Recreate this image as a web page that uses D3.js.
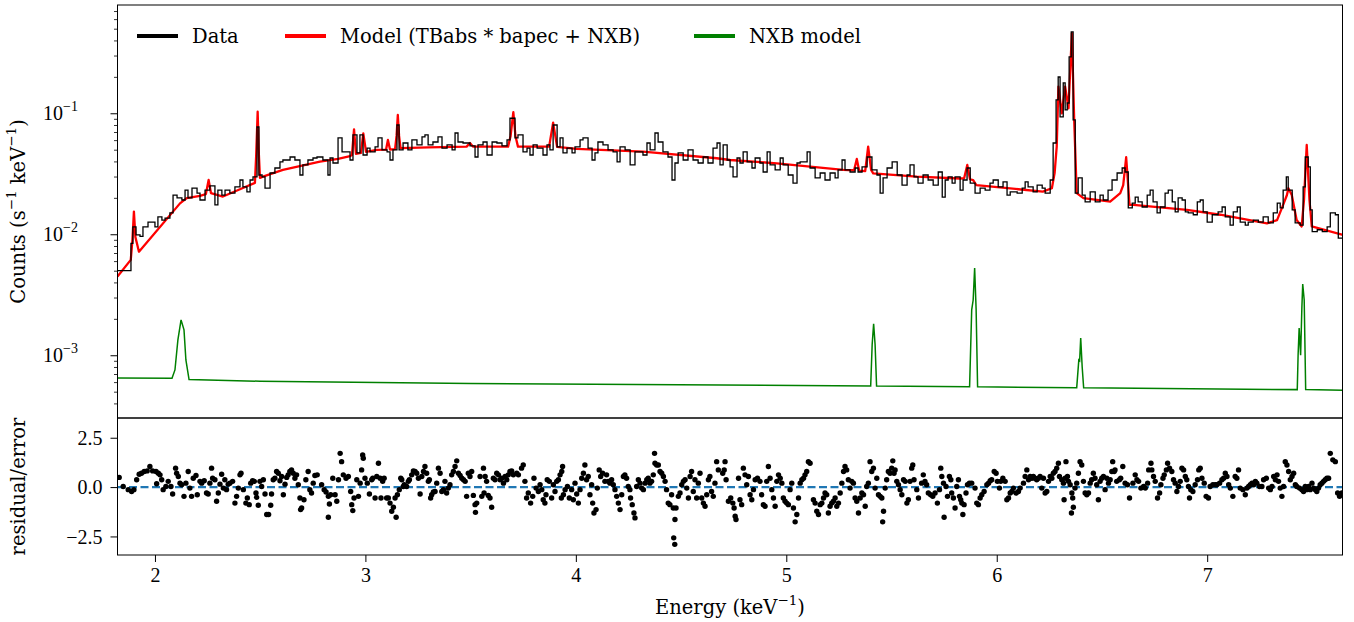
<!DOCTYPE html>
<html>
<head>
<meta charset="utf-8">
<script src="https://cdn.jsdelivr.net/npm/d3@7"></script>
<style>
  body { margin: 0; background: #fff; }
  svg text { font-family: "DejaVu Serif", "Liberation Serif", serif; fill: #000; }
  svg text.tick-label, svg .tick text { font-family: "Liberation Serif", "DejaVu Serif", serif; }
</style>
</head>
<body>
<div id="chart"></div>
<script>
// ---- data ----
// spectrum: [bin low edge keV, counts s^-1 keV^-1]
const spectrum = [
  [1.820,0.0050],[1.886,0.0084],[1.895,0.0115],[1.910,0.0099],[1.929,0.0096],[1.943,0.0115],[1.967,0.0126],[2.000,0.0115],[2.014,0.0139],[2.033,0.0131],
  [2.048,0.0136],[2.071,0.0150],[2.086,0.0211],[2.105,0.0200],[2.128,0.0192],[2.143,0.0232],[2.157,0.0200],[2.176,0.0241],[2.200,0.0219],[2.214,0.0192],
  [2.238,0.0232],[2.261,0.0251],[2.285,0.0175],[2.299,0.0232],[2.318,0.0211],[2.333,0.0232],[2.356,0.0219],[2.380,0.0246],[2.404,0.0281],[2.418,0.0246],
  [2.437,0.0224],[2.452,0.0281],[2.466,0.0298],[2.485,0.0770],[2.494,0.0309],[2.509,0.0298],[2.523,0.0241],[2.547,0.0321],[2.570,0.0353],[2.594,0.0396],
  [2.608,0.0411],[2.642,0.0435],[2.665,0.0411],[2.689,0.0309],[2.703,0.0374],[2.727,0.0411],[2.751,0.0427],[2.770,0.0435],[2.798,0.0411],[2.822,0.0309],
  [2.832,0.0427],[2.846,0.0388],[2.870,0.0625],[2.889,0.0479],[2.927,0.0411],[2.941,0.0662],[2.960,0.0470],[2.974,0.0662],[2.989,0.0452],[3.008,0.0516],
  [3.022,0.0479],[3.046,0.0527],[3.060,0.0625],[3.079,0.0498],[3.103,0.0479],[3.117,0.0411],[3.131,0.0498],[3.150,0.0800],[3.160,0.0498],[3.179,0.0568],
  [3.202,0.0498],[3.221,0.0602],[3.245,0.0547],[3.269,0.0637],[3.283,0.0662],[3.298,0.0547],[3.321,0.0579],[3.345,0.0637],[3.364,0.0516],[3.388,0.0547],
  [3.412,0.0498],[3.426,0.0687],[3.440,0.0579],[3.464,0.0568],[3.497,0.0537],[3.521,0.0435],[3.535,0.0547],[3.559,0.0579],[3.578,0.0452],[3.602,0.0579],
  [3.625,0.0568],[3.649,0.0537],[3.673,0.0602],[3.687,0.0910],[3.711,0.0625],[3.725,0.0662],[3.749,0.0479],[3.768,0.0516],[3.782,0.0452],[3.797,0.0547],
  [3.816,0.0516],[3.844,0.0452],[3.863,0.0547],[3.877,0.0498],[3.892,0.0800],[3.911,0.0527],[3.925,0.0625],[3.939,0.0470],[3.958,0.0516],[3.982,0.0470],
  [3.996,0.0527],[4.020,0.0602],[4.034,0.0625],[4.058,0.0516],[4.077,0.0411],[4.091,0.0470],[4.105,0.0579],[4.129,0.0547],[4.153,0.0498],[4.177,0.0479],
  [4.196,0.0396],[4.210,0.0527],[4.234,0.0498],[4.258,0.0374],[4.281,0.0479],[4.319,0.0452],[4.338,0.0568],[4.353,0.0498],[4.376,0.0687],[4.391,0.0579],
  [4.414,0.0479],[4.438,0.0435],[4.457,0.0281],[4.471,0.0388],[4.486,0.0470],[4.510,0.0411],[4.533,0.0498],[4.557,0.0411],[4.581,0.0388],[4.605,0.0435],
  [4.628,0.0388],[4.652,0.0516],[4.671,0.0568],[4.685,0.0374],[4.700,0.0547],[4.719,0.0411],[4.733,0.0360],[4.747,0.0298],[4.766,0.0427],[4.780,0.0388],
  [4.795,0.0479],[4.814,0.0396],[4.837,0.0353],[4.852,0.0427],[4.875,0.0388],[4.890,0.0327],[4.909,0.0479],[4.923,0.0374],[4.947,0.0340],[4.971,0.0427],
  [4.985,0.0374],[5.009,0.0309],[5.032,0.0265],[5.051,0.0388],[5.066,0.0396],[5.099,0.0479],[5.113,0.0353],[5.137,0.0292],[5.161,0.0321],[5.184,0.0281],
  [5.208,0.0321],[5.232,0.0292],[5.246,0.0340],[5.265,0.0411],[5.279,0.0340],[5.303,0.0327],[5.327,0.0353],[5.341,0.0327],[5.360,0.0360],[5.384,0.0435],
  [5.407,0.0340],[5.431,0.0309],[5.446,0.0219],[5.460,0.0292],[5.479,0.0353],[5.503,0.0396],[5.527,0.0309],[5.550,0.0255],[5.574,0.0309],[5.588,0.0374],
  [5.607,0.0298],[5.626,0.0265],[5.650,0.0309],[5.674,0.0281],[5.698,0.0255],[5.722,0.0327],[5.741,0.0203],[5.755,0.0281],[5.769,0.0298],[5.788,0.0265],
  [5.802,0.0298],[5.826,0.0232],[5.840,0.0281],[5.859,0.0353],[5.874,0.0265],[5.897,0.0219],[5.921,0.0241],[5.945,0.0232],[5.968,0.0265],[5.983,0.0281],
  [6.007,0.0246],[6.030,0.0271],[6.049,0.0211],[6.064,0.0224],[6.097,0.0219],[6.121,0.0241],[6.135,0.0271],[6.149,0.0246],[6.173,0.0224],[6.192,0.0255],
  [6.216,0.0241],[6.230,0.0219],[6.254,0.0281],[6.268,0.0568],[6.282,0.1288],[6.292,0.1995],[6.301,0.0932],[6.316,0.1780],[6.325,0.1065],[6.335,0.1216],
  [6.344,0.2920],[6.354,0.4700],[6.363,0.0881],[6.373,0.0219],[6.387,0.0292],[6.406,0.0211],[6.420,0.0185],[6.444,0.0224],[6.468,0.0185],[6.491,0.0211],
  [6.506,0.0192],[6.529,0.0232],[6.548,0.0281],[6.572,0.0321],[6.596,0.0353],[6.610,0.0327],[6.625,0.0165],[6.644,0.0181],[6.658,0.0203],[6.672,0.0185],
  [6.691,0.0168],[6.715,0.0211],[6.729,0.0232],[6.743,0.0185],[6.762,0.0150],[6.777,0.0168],[6.800,0.0219],[6.815,0.0232],[6.834,0.0185],[6.848,0.0153],
  [6.862,0.0200],[6.881,0.0192],[6.896,0.0153],[6.910,0.0150],[6.934,0.0145],[6.953,0.0185],[6.967,0.0192],[6.981,0.0153],[7.000,0.0126],[7.024,0.0145],
  [7.052,0.0153],[7.071,0.0168],[7.086,0.0139],[7.109,0.0119],[7.124,0.0153],[7.143,0.0168],[7.157,0.0126],[7.181,0.0119],[7.195,0.0126],[7.219,0.0131],
  [7.243,0.0126],[7.266,0.0139],[7.290,0.0124],[7.314,0.0150],[7.333,0.0181],[7.347,0.0165],[7.361,0.0232],[7.376,0.0298],[7.385,0.0232],[7.404,0.0159],
  [7.418,0.0124],[7.442,0.0119],[7.456,0.0246],[7.466,0.0435],[7.480,0.0360],[7.490,0.0159],[7.499,0.0105],[7.523,0.0109],[7.547,0.0105],[7.570,0.0115],
  [7.585,0.0150],[7.609,0.0145],[7.623,0.0093]
];
const spectrumEnd = 7.643;

// total model TBabs*bapec + NXB: [keV, counts]
const model = [
  [1.822,0.00447],[1.885,0.00614],[1.893,0.0090],[1.900,0.0154],[1.907,0.0095],[1.924,0.00718],[2.119,0.0180],[2.151,0.0199],[2.214,0.0208],[2.242,0.0215],
  [2.255,0.0281],[2.266,0.0219],[2.323,0.0205],[2.418,0.0241],[2.475,0.0266],[2.481,0.045],[2.488,0.1031],[2.494,0.045],[2.499,0.0292],[2.513,0.0299],
  [2.608,0.0340],[2.784,0.0398],[2.870,0.0420],[2.927,0.0443],[2.936,0.0450],[2.946,0.0737],[2.955,0.0461],[2.979,0.0470],[2.990,0.0683],[3.003,0.0479],
  [3.054,0.0498],[3.098,0.0500],[3.107,0.0602],[3.117,0.0502],[3.141,0.0505],[3.148,0.065],[3.154,0.0968],[3.160,0.065],[3.167,0.0516],[3.300,0.0522],
  [3.481,0.0530],[3.497,0.0568],[3.511,0.0530],[3.678,0.0530],[3.690,0.065],[3.703,0.1020],[3.713,0.065],[3.725,0.0530],[3.873,0.0530],[3.892,0.0836],
  [3.911,0.0527],[4.004,0.0507],[4.319,0.0482],[4.670,0.0425],[4.733,0.0411],[4.955,0.0386],[5.271,0.0340],[5.322,0.0338],[5.335,0.0419],[5.346,0.0336],
  [5.375,0.0333],[5.389,0.0530],[5.403,0.0340],[5.413,0.0319],[5.620,0.0299],[5.826,0.0289],[5.845,0.0290],[5.860,0.0374],[5.873,0.0285],[5.888,0.0280],
  [5.903,0.0255],[6.219,0.0225],[6.262,0.0240],[6.275,0.032],[6.285,0.0530],[6.293,0.1660],[6.309,0.1000],[6.325,0.1660],[6.341,0.1100],[6.357,0.4590],
  [6.368,0.0880],[6.380,0.0219],[6.412,0.0199],[6.539,0.0186],[6.587,0.0219],[6.601,0.0255],[6.615,0.0433],[6.631,0.0175],[6.650,0.0175],[6.904,0.0159],
  [7.062,0.0145],[7.284,0.0123],[7.332,0.0131],[7.361,0.0175],[7.379,0.0211],[7.386,0.0240],[7.402,0.0211],[7.425,0.0131],[7.449,0.0116],[7.460,0.0192],
  [7.473,0.0547],[7.486,0.0192],[7.497,0.0116],[7.645,0.00987]
];

// NXB model: [keV, counts]
const nxb = [
  [1.822,6.5e-4],[2.081,6.45e-4],[2.095,7.56e-4],[2.109,1.34e-3],[2.124,1.96e-3],[2.138,1.62e-3],[2.147,9.15e-4],[2.162,6.3e-4],[2.5,6.1e-4],[3.5,5.85e-4],
  [5.401,5.58e-4],[5.408,1.22e-3],[5.415,1.82e-3],[5.422,1.22e-3],[5.429,5.56e-4],[5.871,5.5e-4],[5.881,2.37e-3],[5.888,2.86e-3],[5.895,5.27e-3],[5.902,2.4e-3],
  [5.909,5.48e-4],[6.380,5.4e-4],[6.390,9.15e-4],[6.394,9.0e-4],[6.399,1.39e-3],[6.406,8.0e-4],[6.413,5.38e-4],[7.428,5.2e-4],[7.432,1.0e-3],[7.437,1.68e-3],
  [7.444,1.0e-3],[7.450,2.5e-3],[7.454,3.88e-3],[7.461,2.86e-3],[7.468,5.2e-4],[7.643,5.15e-4]
];

// residual/error: [keV, value]
const residuals = [
  [1.830,0.49],[1.849,0.03],[1.873,-0.13],[1.889,-0.22],[1.900,-0.13],[1.913,0.37],[1.925,0.65],[1.936,0.70],[1.949,0.79],[1.963,0.82],
  [1.976,1.04],[1.989,0.82],[2.005,0.79],[2.016,0.70],[2.024,0.62],[2.008,0.17],[2.032,0.37],[2.039,-0.13],[2.052,0.03],[2.063,0.29],
  [2.076,0.03],[2.084,-0.35],[2.098,0.96],[2.103,0.70],[2.111,0.54],[2.119,0.20],[2.127,0.12],[2.138,-0.47],[2.147,0.20],[2.158,0.79],
  [2.166,-0.05],[2.174,-0.47],[2.182,0.45],[2.195,0.59],[2.201,-0.39],[2.214,0.29],[2.222,0.20],[2.234,0.32],[2.245,-0.30],[2.253,-0.35],
  [2.261,0.20],[2.269,0.96],[2.274,0.45],[2.285,0.37],[2.293,-0.72],[2.301,-0.30],[2.309,0.15],[2.317,0.65],[2.325,-0.05],[2.332,0.37],
  [2.340,-0.13],[2.348,0.15],[2.356,0.20],[2.369,0.29],[2.380,-0.81],[2.388,-0.47],[2.396,-0.05],[2.404,0.62],[2.409,0.70],[2.420,-0.13],
  [2.432,-0.81],[2.439,-0.55],[2.448,-0.89],[2.455,0.20],[2.464,0.32],[2.472,0.29],[2.483,-0.52],[2.480,-0.30],[2.491,-0.92],[2.499,0.29],
  [2.507,0.03],[2.515,0.37],[2.523,-0.35],[2.531,-1.39],[2.540,-1.39],[2.550,-0.92],[2.554,-0.35],[2.562,0.37],[2.570,0.45],[2.578,0.79],
  [2.586,0.70],[2.594,0.32],[2.602,0.54],[2.610,-0.39],[2.618,0.15],[2.626,0.49],[2.633,0.62],[2.641,0.79],[2.649,0.87],[2.657,0.70],
  [2.665,0.45],[2.673,0.62],[2.681,0.12],[2.689,-0.55],[2.692,-1.14],[2.697,-1.06],[2.708,-0.64],[2.717,0.37],[2.728,0.79],[2.736,-0.13],
  [2.744,-0.30],[2.752,0.20],[2.760,0.59],[2.771,0.62],[2.792,0.12],[2.804,-0.13],[2.813,-0.25],[2.824,-0.47],[2.829,-0.86],[2.824,-1.53],
  [2.835,-0.39],[2.845,0.45],[2.856,-0.39],[2.864,-0.72],[2.872,0.37],[2.880,1.71],[2.887,1.29],[2.895,0.62],[2.908,0.45],[2.919,0.54],
  [2.930,-0.22],[2.935,-0.89],[2.940,-1.19],[2.946,-0.55],[2.959,0.37],[2.967,-0.47],[2.975,0.20],[2.982,0.87],[2.987,1.63],[2.990,1.46],
  [2.998,0.45],[3.009,0.20],[3.019,-0.35],[3.030,0.37],[3.035,0.45],[3.046,-0.55],[3.054,0.54],[3.062,1.21],[3.070,0.45],[3.074,-0.55],
  [3.082,0.29],[3.089,0.45],[3.101,-0.55],[3.109,-0.55],[3.117,-0.81],[3.125,-1.22],[3.133,-1.02],[3.141,-0.55],[3.146,-1.53],[3.152,-0.39],
  [3.161,-0.13],[3.168,0.45],[3.173,0.37],[3.180,0.03],[3.185,0.12],[3.196,0.03],[3.204,0.29],[3.209,0.37],[3.220,0.62],[3.228,0.82],
  [3.236,0.79],[3.244,0.70],[3.252,0.45],[3.260,-0.35],[3.268,0.54],[3.276,0.79],[3.283,1.04],[3.291,0.70],[3.299,0.29],[3.304,0.37],
  [3.310,-0.55],[3.315,-0.39],[3.323,-0.25],[3.331,-0.22],[3.339,0.20],[3.347,0.96],[3.355,0.70],[3.363,-0.22],[3.371,-0.13],[3.378,0.29],
  [3.386,-0.30],[3.394,-0.05],[3.402,0.12],[3.410,0.62],[3.418,0.79],[3.426,1.04],[3.434,1.33],[3.442,0.70],[3.450,0.59],[3.458,0.45],
  [3.466,0.37],[3.474,0.29],[3.481,-0.47],[3.489,0.70],[3.497,0.54],[3.505,0.79],[3.513,-0.42],[3.521,-0.89],[3.523,-1.28],[3.529,-0.81],
  [3.545,0.54],[3.553,-0.47],[3.561,0.96],[3.564,-0.30],[3.569,0.54],[3.576,0.29],[3.584,-0.42],[3.592,-0.55],[3.600,-1.02],[3.608,0.45],
  [3.616,0.37],[3.624,0.70],[3.632,0.62],[3.640,0.37],[3.648,0.45],[3.656,0.20],[3.664,0.54],[3.672,0.37],[3.679,0.62],[3.687,0.79],
  [3.695,0.82],[3.703,0.62],[3.719,0.70],[3.727,0.62],[3.742,0.96],[3.750,1.12],[3.758,0.29],[3.766,-0.55],[3.774,-0.30],[3.785,-0.81],
  [3.795,-0.47],[3.801,0.45],[3.811,-0.05],[3.822,-0.22],[3.830,0.12],[3.838,-0.13],[3.845,-0.64],[3.853,-0.81],[3.858,-0.39],[3.864,0.37],
  [3.874,0.29],[3.885,-0.55],[3.893,0.12],[3.901,-0.22],[3.909,0.29],[3.917,0.37],[3.925,0.62],[3.933,0.79],[3.937,1.04],[3.931,-0.55],
  [3.941,-0.39],[3.949,-0.13],[3.960,0.03],[3.969,-0.55],[3.980,-0.13],[3.988,-0.64],[3.996,0.20],[4.004,-0.35],[4.012,-0.81],[4.020,-0.13],
  [4.028,0.45],[4.036,0.70],[4.043,1.12],[4.051,0.37],[4.059,0.54],[4.067,-0.39],[4.075,0.12],[4.080,-0.81],[4.086,-1.31],[4.096,-1.14],
  [4.102,-0.05],[4.111,0.87],[4.118,0.54],[4.127,0.70],[4.138,0.29],[4.146,0.62],[4.154,0.29],[4.162,0.20],[4.170,0.37],[4.178,0.12],
  [4.186,-0.13],[4.194,-0.47],[4.202,-0.81],[4.210,-1.14],[4.218,-0.39],[4.226,0.54],[4.233,0.62],[4.241,0.45],[4.249,0.03],[4.257,-0.13],
  [4.260,-0.55],[4.268,-0.89],[4.276,-1.31],[4.281,-1.56],[4.289,0.03],[4.297,0.37],[4.305,0.20],[4.313,-0.05],[4.321,-0.13],[4.329,0.20],
  [4.337,0.37],[4.344,0.45],[4.352,0.20],[4.360,0.29],[4.368,0.62],[4.376,1.21],[4.374,1.71],[4.384,1.12],[4.392,1.12],[4.400,0.79],
  [4.408,0.70],[4.416,0.54],[4.424,0.29],[4.431,-0.13],[4.439,-0.81],[4.447,-0.89],[4.455,-0.39],[4.463,-1.06],[4.471,-1.64],[4.476,-1.06],
  [4.465,-2.57],[4.470,-2.90],[4.487,-0.47],[4.495,-0.30],[4.503,0.12],[4.511,0.29],[4.519,0.37],[4.527,-0.05],[4.535,-0.55],[4.543,0.54],
  [4.550,0.79],[4.558,-0.22],[4.566,0.37],[4.574,-0.55],[4.582,0.20],[4.590,0.70],[4.598,-0.55],[4.606,-0.81],[4.614,-0.97],[4.622,-0.39],
  [4.630,0.37],[4.637,0.54],[4.645,-0.22],[4.653,-0.47],[4.661,0.20],[4.669,1.29],[4.677,0.87],[4.698,0.70],[4.705,0.87],[4.709,1.29],
  [4.714,0.37],[4.725,-0.72],[4.736,-0.55],[4.746,-0.81],[4.752,-1.06],[4.757,-1.48],[4.761,-1.64],[4.773,0.45],[4.780,-0.64],[4.788,-0.89],
  [4.796,0.96],[4.804,0.62],[4.812,0.12],[4.820,0.54],[4.828,-0.39],[4.836,-0.64],[4.844,-0.13],[4.852,0.37],[4.863,0.45],[4.875,0.29],
  [4.883,-0.39],[4.891,-0.89],[4.899,-0.97],[4.907,0.29],[4.915,1.04],[4.923,0.45],[4.931,-0.13],[4.939,-0.55],[4.947,-0.97],[4.955,0.29],
  [4.963,0.62],[4.971,0.45],[4.979,0.20],[4.986,-0.55],[4.994,-0.72],[5.002,-0.81],[5.010,-0.89],[5.018,-0.13],[5.026,0.20],[5.034,-1.06],
  [5.042,-1.76],[5.050,-1.39],[5.058,-0.55],[5.066,0.20],[5.074,0.37],[5.082,0.45],[5.089,0.62],[5.097,0.79],[5.105,1.29],[5.113,1.21],
  [5.129,-0.64],[5.137,-0.81],[5.145,-1.22],[5.153,-1.39],[5.161,-0.89],[5.169,-0.81],[5.177,-0.55],[5.184,-0.30],[5.192,-0.39],[5.200,-1.31],
  [5.208,-0.97],[5.216,-0.81],[5.224,-0.72],[5.232,-0.55],[5.240,-0.97],[5.248,-0.81],[5.256,-0.30],[5.264,0.20],[5.272,0.79],[5.279,1.04],
  [5.287,0.87],[5.295,0.37],[5.303,-0.05],[5.311,0.29],[5.319,0.20],[5.327,-0.55],[5.335,-0.72],[5.343,-1.31],[5.351,-0.55],[5.359,-0.30],
  [5.367,-0.39],[5.375,-0.97],[5.382,0.03],[5.390,0.20],[5.398,1.29],[5.406,0.79],[5.414,0.96],[5.422,-0.05],[5.430,0.45],[5.438,-0.39],
  [5.446,-0.47],[5.454,-0.55],[5.462,-1.22],[5.458,-1.76],[5.470,-0.05],[5.477,0.37],[5.485,0.79],[5.493,0.70],[5.501,0.96],[5.506,1.33],
  [5.512,0.70],[5.517,0.87],[5.525,0.29],[5.533,0.12],[5.541,-0.13],[5.549,-0.39],[5.557,0.37],[5.565,0.29],[5.573,-0.81],[5.580,-0.64],
  [5.588,0.29],[5.596,0.96],[5.601,1.12],[5.607,0.37],[5.620,-0.13],[5.628,-0.55],[5.643,0.20],[5.651,0.62],[5.659,0.29],[5.667,0.12],
  [5.675,-0.30],[5.686,-0.39],[5.696,-0.47],[5.707,-0.30],[5.718,-0.81],[5.728,-0.13],[5.734,0.96],[5.739,0.54],[5.747,0.20],[5.750,-1.53],
  [5.759,0.03],[5.766,-0.47],[5.775,0.54],[5.782,0.37],[5.786,-0.30],[5.794,-0.55],[5.802,-1.06],[5.810,0.03],[5.818,0.37],[5.823,-0.47],
  [5.829,-0.64],[5.834,-0.81],[5.839,-1.39],[5.845,-0.89],[5.854,-0.30],[5.861,0.12],[5.870,0.20],[5.881,0.20],[5.897,-0.05],[5.905,-0.81],
  [5.913,-0.89],[5.921,-0.55],[5.929,-0.39],[5.940,-0.22],[5.953,0.12],[5.961,0.20],[5.969,0.32],[5.976,0.37],[5.988,0.79],[5.997,0.70],
  [6.003,0.29],[6.013,-0.05],[6.019,0.29],[6.029,0.45],[6.040,0.29],[6.048,-0.64],[6.056,-0.55],[6.064,-0.30],[6.072,-0.22],[6.079,-0.05],
  [6.092,-0.30],[6.103,-0.22],[6.111,-0.05],[6.127,0.20],[6.135,0.54],[6.143,0.87],[6.151,0.37],[6.159,0.54],[6.167,0.45],[6.174,0.54],
  [6.182,0.45],[6.190,0.37],[6.198,0.45],[6.206,0.54],[6.214,-0.05],[6.222,0.45],[6.230,-0.30],[6.238,-0.22],[6.246,0.29],[6.254,0.54],
  [6.262,0.45],[6.269,0.70],[6.277,0.79],[6.285,0.96],[6.293,1.21],[6.298,0.54],[6.309,0.37],[6.317,0.20],[6.320,-0.64],[6.325,0.45],
  [6.329,1.29],[6.336,0.54],[6.341,0.29],[6.349,0.12],[6.357,-0.30],[6.361,-0.55],[6.364,-1.02],[6.355,-1.31],[6.372,-0.05],[6.380,0.20],
  [6.388,0.70],[6.396,1.29],[6.404,1.12],[6.412,0.29],[6.420,-0.30],[6.428,-0.39],[6.436,-0.30],[6.444,0.20],[6.451,0.37],[6.459,0.70],
  [6.467,0.45],[6.475,0.12],[6.483,-0.64],[6.491,0.29],[6.499,0.45],[6.507,0.54],[6.515,-0.13],[6.523,0.45],[6.531,0.20],[6.539,0.37],
  [6.547,0.79],[6.551,1.29],[6.558,0.79],[6.562,0.87],[6.570,0.29],[6.583,0.37],[6.589,0.45],[6.599,1.04],[6.610,0.20],[6.621,0.12],
  [6.631,-0.55],[6.647,0.20],[6.658,0.62],[6.666,0.37],[6.674,0.29],[6.685,-0.05],[6.698,0.03],[6.706,-0.05],[6.717,0.20],[6.722,0.87],
  [6.733,1.21],[6.737,0.87],[6.745,0.54],[6.753,0.29],[6.764,-0.55],[6.774,-0.30],[6.780,0.12],[6.790,0.45],[6.796,0.62],[6.806,0.87],
  [6.812,1.21],[6.821,0.96],[6.832,0.79],[6.840,0.37],[6.848,0.20],[6.856,-0.22],[6.864,0.03],[6.872,0.29],[6.880,0.96],[6.888,0.87],
  [6.896,0.54],[6.903,0.37],[6.911,0.03],[6.916,-0.55],[6.922,-0.13],[6.932,-0.22],[6.943,0.12],[6.954,0.37],[6.960,0.87],[6.967,0.96],
  [6.975,0.45],[6.986,0.20],[6.995,-0.47],[7.006,-0.55],[7.014,0.03],[7.027,0.12],[7.038,0.12],[7.046,0.12],[7.059,0.20],[7.070,0.37],
  [7.078,0.45],[7.086,0.70],[7.094,0.54],[7.102,0.12],[7.110,-0.05],[7.122,-0.47],[7.133,0.54],[7.141,0.45],[7.149,0.87],[7.157,-0.05],
  [7.170,-0.13],[7.181,-0.39],[7.189,-0.05],[7.197,0.03],[7.205,0.12],[7.213,0.20],[7.221,0.12],[7.229,0.29],[7.236,0.20],[7.249,0.03],
  [7.260,0.03],[7.268,0.37],[7.281,0.45],[7.292,-0.05],[7.300,-0.13],[7.308,0.03],[7.316,0.54],[7.324,0.37],[7.332,0.62],[7.339,0.29],
  [7.347,-0.05],[7.355,-0.47],[7.363,0.03],[7.371,1.29],[7.379,1.12],[7.387,0.79],[7.395,0.37],[7.403,0.54],[7.411,0.70],[7.419,0.12],
  [7.426,0.03],[7.439,-0.05],[7.450,-0.13],[7.458,-0.22],[7.466,0.03],[7.474,-0.13],[7.482,0.03],[7.490,-0.13],[7.498,0.20],[7.506,-0.05],
  [7.514,-0.13],[7.521,-0.22],[7.529,-0.05],[7.537,0.12],[7.545,0.20],[7.553,0.29],[7.561,0.37],[7.569,0.45],[7.577,0.45],[7.585,1.71],
  [7.597,1.38],[7.609,1.29],[7.620,-0.30],[7.629,-0.47],[7.640,-0.30]
];

const xTicks = [2, 3, 4, 5, 6, 7];
const yTopTicks = [1e-3, 1e-2, 1e-1];
const yTopMinor = [4e-4,5e-4,6e-4,7e-4,8e-4,9e-4,2e-3,3e-3,4e-3,5e-3,6e-3,7e-3,8e-3,9e-3,
                   0.02,0.03,0.04,0.05,0.06,0.07,0.08,0.09,0.2,0.3,0.4,0.5,0.6,0.7];
const yResTicks = [-2.5, 0, 2.5];
const legendItems = [
  { label: 'Data', color: '#000000' },
  { label: 'Model (TBabs * bapec + NXB)', color: '#ff0000' },
  { label: 'NXB model', color: '#008000' }
];

// ---- layout ----
const W = 1354, H = 622;
const m = { left: 117.5, right: 1342.5, top: 5, mid: 418, bottom: 555 };
const fs = 19.5;      // legend / axis labels
const tfs = 20;       // tick labels
const sfs = 13.5;     // superscripts

const svg = d3.select('#chart').append('svg')
  .attr('width', W).attr('height', H);

const x = d3.scaleLinear().domain([1.822, 7.643]).range([m.left, m.right]);
const yTop = d3.scaleLog().domain([3.03e-4, 0.785]).range([m.mid, m.top]);
const yRes = d3.scaleLinear().domain([-3.44, 3.5]).range([m.bottom, m.mid]);

const defs = svg.append('defs');
defs.append('clipPath').attr('id', 'clipTop').append('rect')
  .attr('x', m.left).attr('y', m.top).attr('width', m.right - m.left).attr('height', m.mid - m.top);
defs.append('clipPath').attr('id', 'clipRes').append('rect')
  .attr('x', m.left).attr('y', m.mid).attr('width', m.right - m.left).attr('height', m.bottom - m.mid);

// ---- top panel ----
const specG = svg.append('g').attr('clip-path', 'url(#clipTop)');

const line = d3.line().x(d => x(d[0])).y(d => yTop(d[1]));

specG.append('path')
  .datum(nxb)
  .attr('d', line)
  .attr('fill', 'none').attr('stroke', '#008000').attr('stroke-width', 1.5);

specG.append('path')
  .datum(model)
  .attr('d', line)
  .attr('fill', 'none').attr('stroke', '#ff0000').attr('stroke-width', 2.3)
  .attr('stroke-linejoin', 'round');

const stepData = spectrum.concat([[spectrumEnd, spectrum[spectrum.length - 1][1]]]);
specG.append('path')
  .datum(stepData)
  .attr('d', line.curve(d3.curveStepAfter))
  .attr('fill', 'none').attr('stroke', '#000').attr('stroke-width', 1.3);

// ---- residual panel ----
const resG = svg.append('g').attr('clip-path', 'url(#clipRes)');

resG.append('line')
  .attr('x1', m.left).attr('x2', m.right)
  .attr('y1', yRes(0)).attr('y2', yRes(0))
  .attr('stroke', '#1f77b4').attr('stroke-width', 2.3)
  .attr('stroke-dasharray', '8,3.5');

resG.selectAll('circle')
  .data(residuals)
  .enter().append('circle')
    .attr('cx', d => x(d[0]))
    .attr('cy', d => yRes(d[1]))
    .attr('r', 2.7)
    .attr('fill', '#000');

// ---- axes ----
function styleAxis(g) {
  g.select('.domain').remove();
  g.selectAll('.tick line').attr('stroke', '#000');
  g.selectAll('.tick text').attr('font-size', tfs).attr('font-family', null);
}

svg.append('g')
  .attr('transform', `translate(${m.left},0)`)
  .call(d3.axisLeft(yTop).tickValues(yTopMinor).tickSize(3.5).tickFormat(''))
  .call(styleAxis)
  .selectAll('.tick line').attr('stroke-width', 0.8);

svg.append('g')
  .attr('transform', `translate(${m.left},0)`)
  .call(d3.axisLeft(yTop).tickValues(yTopTicks).tickSize(7).tickFormat(''))
  .call(styleAxis);

const yLab = svg.append('g').selectAll('text')
  .data(yTopTicks)
  .enter().append('text')
    .attr('class', 'tick-label')
    .attr('x', 78)
    .attr('y', d => yTop(d) + 7)
    .attr('text-anchor', 'end')
    .attr('font-size', tfs);
yLab.append('tspan').text('10');
yLab.append('tspan').attr('dy', -9).attr('font-size', 14)
  .text(d => '\u2212' + Math.round(-Math.log10(d)));

svg.append('g')
  .attr('transform', `translate(${m.left},0)`)
  .call(d3.axisLeft(yRes).tickValues(yResTicks).tickSize(7).tickPadding(8)
    .tickFormat(d3.format('.1f')))
  .call(styleAxis)
  .selectAll('.tick text').attr('dy', '0.34em');

svg.append('g')
  .attr('transform', `translate(0,${m.bottom})`)
  .call(d3.axisBottom(x).tickValues(xTicks).tickSize(7).tickPadding(6).tickFormat(d3.format('d')))
  .call(styleAxis);

// frames
[[m.top, m.mid], [m.mid, m.bottom]].forEach(([y0, y1]) => {
  svg.append('rect')
    .attr('x', m.left).attr('y', y0)
    .attr('width', m.right - m.left).attr('height', y1 - y0)
    .attr('fill', 'none').attr('stroke', '#000').attr('stroke-width', 1);
});

// ---- labels ----
const xl = svg.append('text')
  .attr('x', (m.left + m.right) / 2).attr('y', 614)
  .attr('text-anchor', 'middle').attr('font-size', fs);
xl.append('tspan').text('Energy (keV');
xl.append('tspan').attr('dy', -9).attr('font-size', sfs).text('\u22121');
xl.append('tspan').attr('dy', 9).text(')');

const yl = svg.append('text')
  .attr('transform', `translate(25,${(m.top + m.mid) / 2}) rotate(-90)`)
  .attr('text-anchor', 'middle').attr('font-size', fs);
yl.append('tspan').text('Counts (s');
yl.append('tspan').attr('dy', -9).attr('font-size', sfs).text('\u22121');
yl.append('tspan').attr('dy', 9).text(' keV');
yl.append('tspan').attr('dy', -9).attr('font-size', sfs).text('\u22121');
yl.append('tspan').attr('dy', 9).text(')');

svg.append('text')
  .attr('transform', `translate(25,${(m.mid + m.bottom) / 2}) rotate(-90)`)
  .attr('text-anchor', 'middle').attr('font-size', fs)
  .text('residual/error');

// ---- legend ----
const legendX = [137, 285, 694];
const legend = svg.append('g');
legendItems.forEach((it, i) => {
  const g = legend.append('g').attr('transform', `translate(${legendX[i]},36)`);
  g.append('line').attr('x1', 0).attr('x2', 41)
    .attr('stroke', it.color).attr('stroke-width', 4);
  g.append('text').attr('x', 55).attr('y', 7)
    .attr('font-size', fs).text(it.label);
});
</script>
</body>
</html>
